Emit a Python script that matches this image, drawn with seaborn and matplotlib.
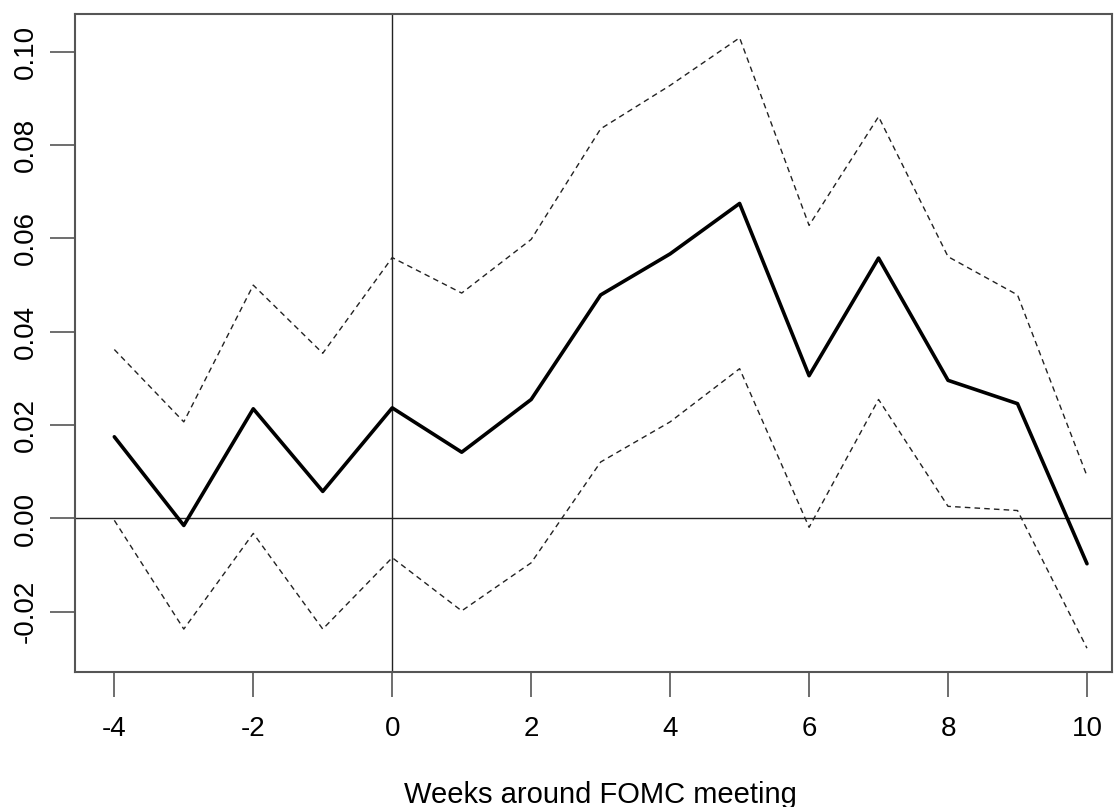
import matplotlib
matplotlib.use("Agg")
import matplotlib.pyplot as plt
import seaborn as sns
import pandas as pd

weeks = [-4, -3, -2, -1, 0, 1, 2, 3, 4, 5, 6, 7, 8, 9, 10]
estimate = [0.0175, -0.0015, 0.0235, 0.0058, 0.0237, 0.0142, 0.0255, 0.0479,
            0.0567, 0.0675, 0.0306, 0.0558, 0.0296, 0.0246, -0.0097]
upper = [0.0362, 0.0207, 0.0500, 0.0354, 0.0559, 0.0483, 0.0598, 0.0835,
         0.0928, 0.1030, 0.0628, 0.0861, 0.0561, 0.0479, 0.0091]
lower = [-0.0004, -0.0237, -0.0032, -0.0237, -0.0084, -0.0198, -0.0095, 0.0121,
         0.0207, 0.0321, -0.0019, 0.0255, 0.0026, 0.0017, -0.0278]
xticks = [-4, -2, 0, 2, 4, 6, 8, 10]
yticks = [-0.02, 0.00, 0.02, 0.04, 0.06, 0.08, 0.10]
xlabel = "Weeks around FOMC meeting"

df = pd.DataFrame({"week": weeks, "est": estimate, "up": upper, "lo": lower})

sns.set_style("white")
plt.rcParams['font.family'] = ['Liberation Sans', 'DejaVu Sans']

fig = plt.figure(figsize=(11.14, 8.07), dpi=100)
ax = fig.add_axes([75/1114, (807-672)/807, (1112-75)/1114, (672-14)/807])

ax.axhline(0, color="#222222", lw=1.0, zorder=1)
ax.axvline(0, color="#222222", lw=1.0, zorder=1)
sns.lineplot(data=df, x="week", y="up", ax=ax, color="#222222", lw=1.0, linestyle=(0, (4, 3)))
sns.lineplot(data=df, x="week", y="lo", ax=ax, color="#222222", lw=1.0, linestyle=(0, (4, 3)))
sns.lineplot(data=df, x="week", y="est", ax=ax, color="black", lw=2.6)

ax.set_xlim(-4.566, 10.36)
ax.set_ylim(-0.0329, 0.1081)
ax.set_xticks(xticks)
ax.set_xticklabels([str(t) for t in xticks])
ax.set_yticks(yticks)
ax.set_yticklabels([f"{t:.2f}" for t in yticks], rotation=90, va="center")
ax.tick_params(axis="both", direction="out", length=18, width=1.2, color="#555555",
               labelsize=20, labelcolor="black", bottom=True, left=True)
ax.tick_params(axis="x", pad=14)
ax.tick_params(axis="y", pad=8)
for s in ax.spines.values():
    s.set_color("#555555")
    s.set_linewidth(1.5)
ax.set_xlabel("")
ax.set_ylabel("")
fig.text(600/1114, 1 - 803/807, xlabel, ha="center", va="baseline",
         fontsize=21, color="black")

fig.savefig("out.png", dpi=100)
